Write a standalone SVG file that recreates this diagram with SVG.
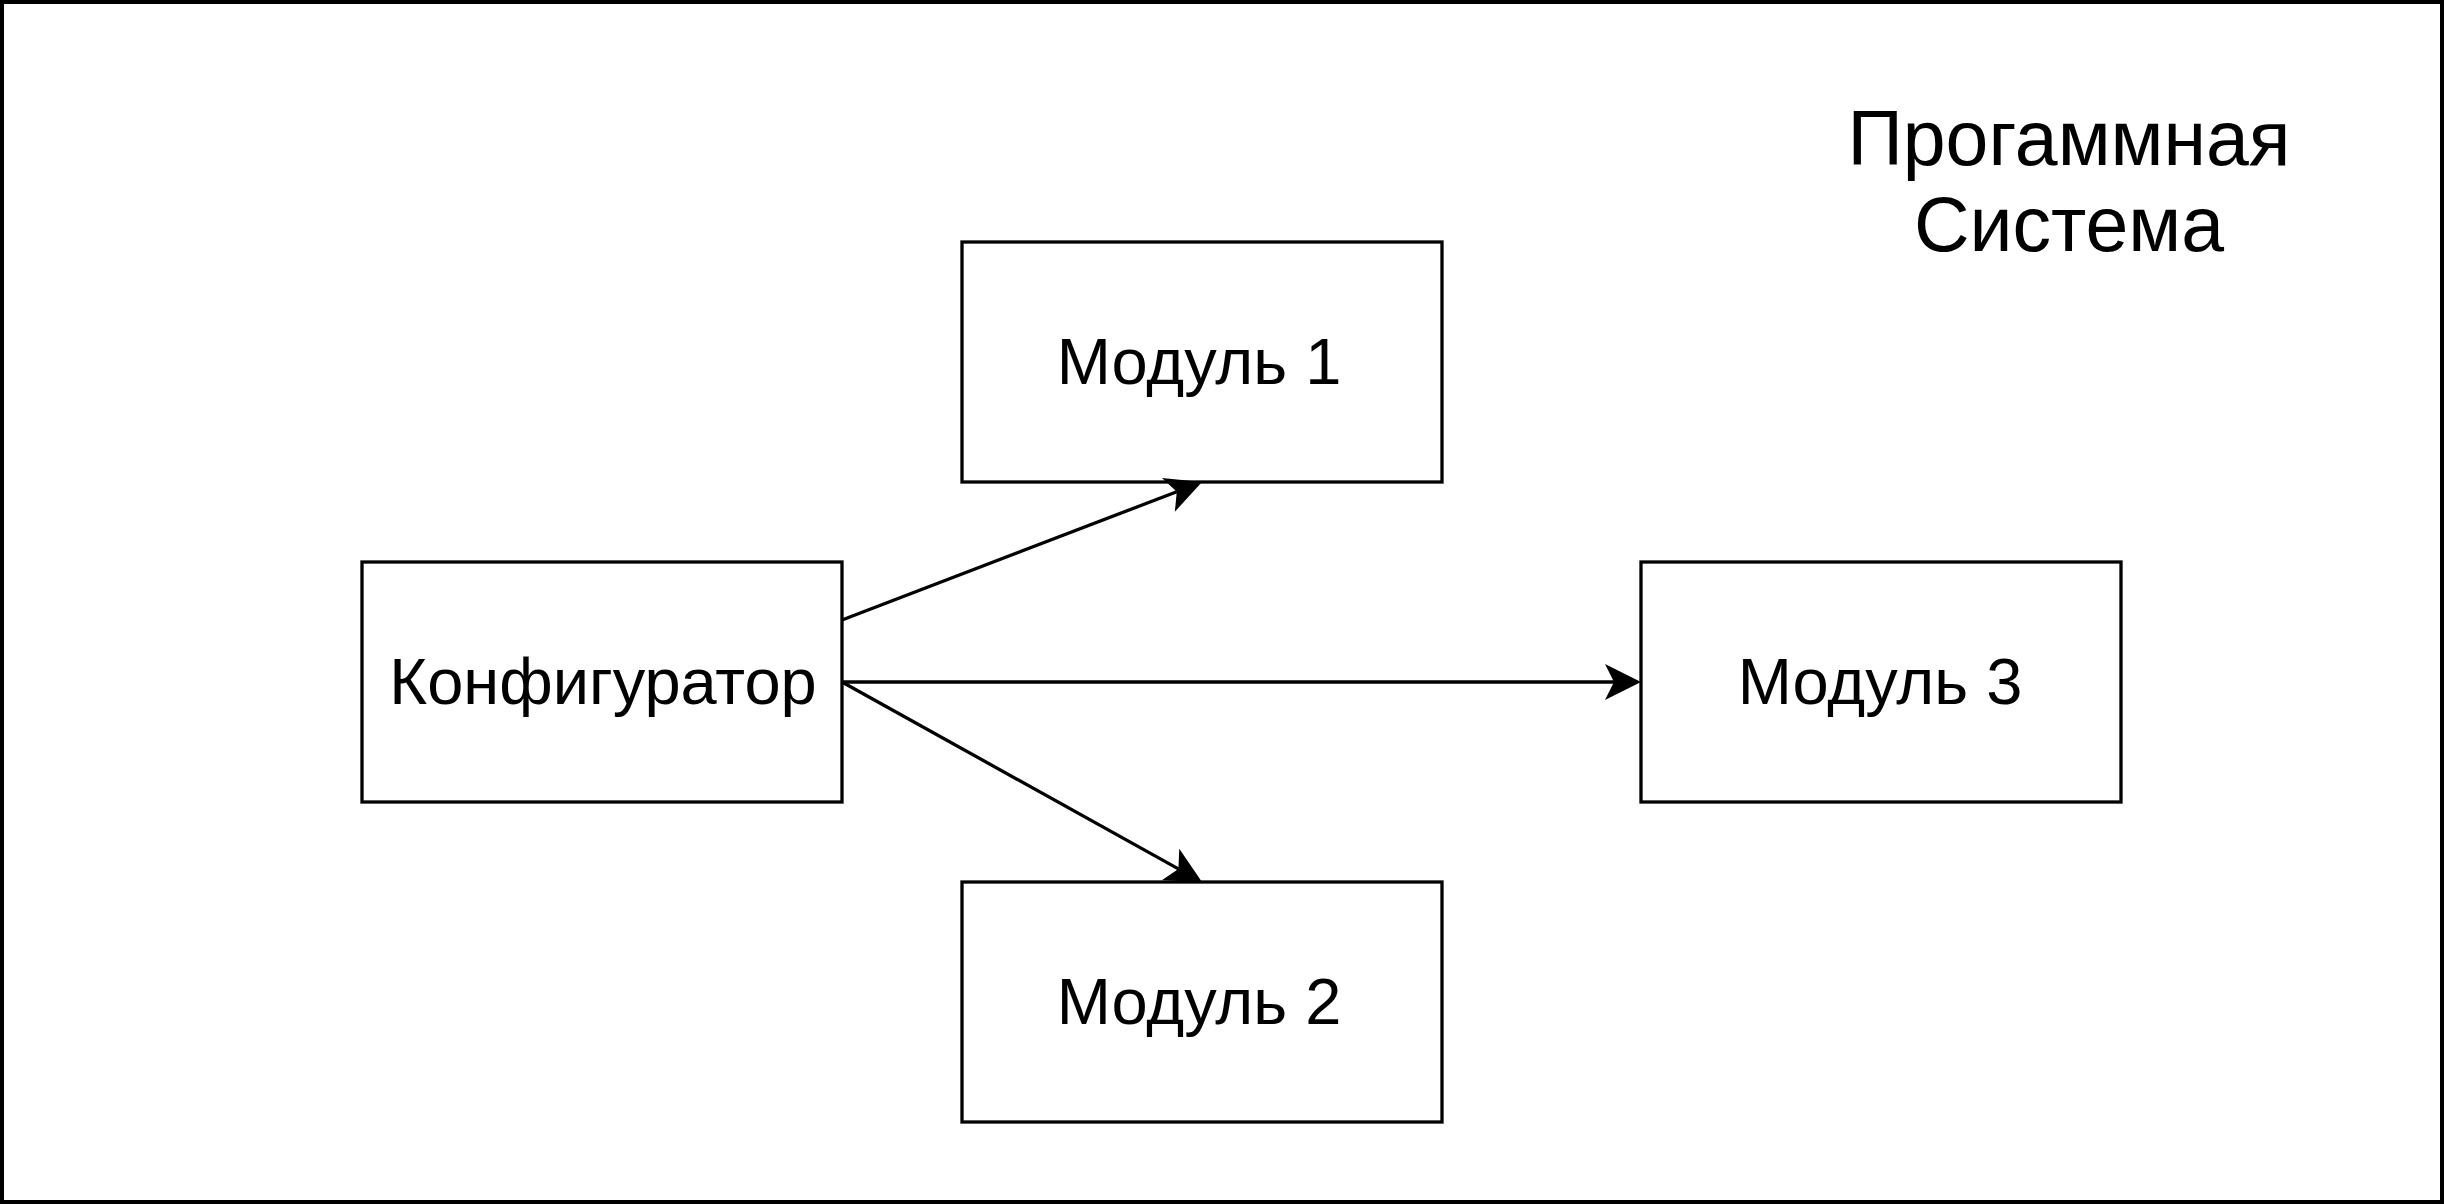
<svg xmlns="http://www.w3.org/2000/svg" width="2444" height="1204" viewBox="0 0 2444 1204">
  <style>
    .box { fill: #ffffff; stroke: #000000; stroke-width: 3.3; }
    .lbl { font-family: "Liberation Sans", Arial, sans-serif; font-size: 65px; fill: #000000; text-anchor: middle; }
    .title { font-family: "Liberation Sans", Arial, sans-serif; font-size: 77px; fill: #000000; text-anchor: middle; }
    .edge { fill: none; stroke: #000000; stroke-width: 3.3; }
  </style>
  <defs>
    <marker id="arrow" markerUnits="userSpaceOnUse" orient="auto" markerWidth="60" markerHeight="60" refX="0" refY="0" viewBox="-20 -30 60 60" overflow="visible">
      <path d="M9,0 L-27,-18 L-18,0 L-27,18 Z" transform="translate(18,0)" fill="#000000" stroke="none"/>
    </marker>
  </defs>
  <rect x="0" y="0" width="2444" height="1204" fill="#ffffff"/>
  <g id="system">
    <rect x="2" y="2" width="2440" height="1200" fill="none" stroke="#000000" stroke-width="4"/>
    <text class="title" x="2069" y="165">Прогаммная</text>
    <text class="title" x="2069" y="251">Система</text>
  </g>
  <g id="connectors">
    <line class="edge" x1="842" y1="620" x2="1176.8" y2="491.7" marker-end="url(#arrow)"/>
    <line class="edge" x1="842" y1="682" x2="1614" y2="682" marker-end="url(#arrow)"/>
    <line class="edge" x1="842" y1="682" x2="1178.4" y2="868.9" marker-end="url(#arrow)"/>
  </g>
  <g id="configurator">
    <rect class="box" x="362" y="562" width="480" height="240"/>
    <text class="lbl" x="603" y="704">Конфигуратор</text>
  </g>
  <g id="module1">
    <rect class="box" x="962" y="242" width="480" height="240" fill-opacity="0"/>
    <text class="lbl" x="1199" y="384">Модуль 1</text>
  </g>
  <g id="module2">
    <rect class="box" x="962" y="882" width="480" height="240" fill-opacity="0"/>
    <text class="lbl" x="1199" y="1024">Модуль 2</text>
  </g>
  <g id="module3">
    <rect class="box" x="1641" y="562" width="480" height="240"/>
    <text class="lbl" x="1880" y="704">Модуль 3</text>
  </g>
</svg>
